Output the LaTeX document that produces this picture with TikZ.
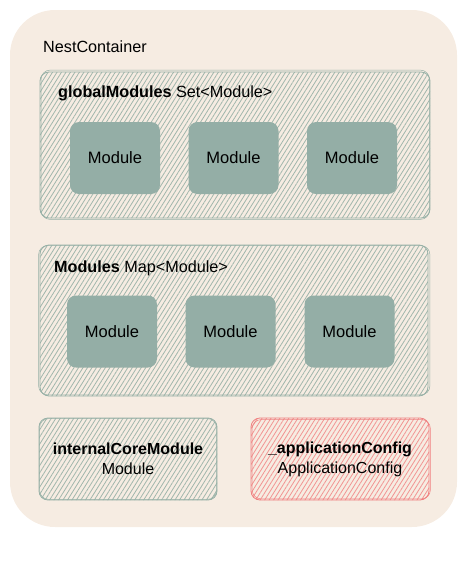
\documentclass[tikz,border=0pt]{standalone}
\usepackage{fontspec}
\setmainfont{Liberation Sans}
\usetikzlibrary{patterns.meta,calc}
\definecolor{outerbg}{RGB}{246,236,226}
\definecolor{gstroke}{RGB}{150,176,166}
\definecolor{ghatch}{RGB}{160,182,172}
\definecolor{modfill}{RGB}{148,174,166}
\definecolor{rstroke}{RGB}{240,128,128}
\definecolor{rhatch}{RGB}{242,148,146}
\tikzset{
  container/.style={draw=none,fill=outerbg,rounded corners=45pt,minimum width=447pt,minimum height=517pt},
  hatchbox/.style={draw=#1stroke,line width=0.8pt,rounded corners=9pt,
    pattern={Lines[angle=58,distance=3.8pt,line width=0.8pt]},pattern color=#1hatch},
  sketchline/.style={draw=#1stroke,line width=0.5pt,rounded corners=9pt},
  modbox/.style={fill=modfill,draw=none,rounded corners=9pt,minimum width=90pt,minimum height=72pt,font=\fontsize{16.5}{19}\selectfont},
  lbl/.style={font=\fontsize{16.2}{19}\selectfont,anchor=west,inner sep=0pt},
  cfg/.style={align=center,font=\fontsize{16}{20}\selectfont}
}
\begin{document}
\begin{tikzpicture}[x=1pt,y=-1pt]
\useasboundingbox (0,0) rectangle (467,565);
\node[container] (outer) at (233.5,268.5) {};
\node[lbl] (title) at (43,47) {NestContainer};
% globalModules
\node[hatchbox=g,minimum width=390pt,minimum height=146pt] (gm) at (235,145) {};
\draw[sketchline=g] ($(gm.south west)+(1.5,1)$) rectangle ($(gm.north east)+(-1,-1.5)$);
\node[lbl] (gmlbl) at (58,93) {\textbf{globalModules} Set<Module>};
\node[modbox] (g1) at (115,158) {Module};
\node[modbox] (g2) at (233.5,158) {Module};
\node[modbox] (g3) at (352,158) {Module};
% Modules
\node[hatchbox=g,minimum width=388pt,minimum height=151pt] (mm) at (234,320.5) {};
\draw[sketchline=g] ($(mm.south west)+(-1,-1.5)$) rectangle ($(mm.north east)+(1.5,1)$);
\node[lbl] (mmlbl) at (54,268) {\textbf{Modules} Map<Module>};
\node[modbox] (m1) at (112,331.5) {Module};
\node[modbox] (m2) at (230.5,331.5) {Module};
\node[modbox] (m3) at (349.5,331.5) {Module};
% internalCoreModule
\node[hatchbox=g,minimum width=178pt,minimum height=82pt] (icm) at (128,459) {};
\draw[sketchline=g] ($(icm.south west)+(1,-1)$) rectangle ($(icm.north east)+(-1,1)$);
\node[cfg] (icmt) at (128,459) {\textbf{internalCoreModule}\\Module};
% _applicationConfig
\node[hatchbox=r,minimum width=178pt,minimum height=82pt] (ac) at (340,459) {};
\draw[sketchline=r] ($(ac.south west)+(1.5,-1.5)$) rectangle ($(ac.north east)+(1,2)$);
\node[cfg] (act) at (340,459) {\textbf{\_applicationConfig}\\ApplicationConfig};
\end{tikzpicture}
\end{document}
